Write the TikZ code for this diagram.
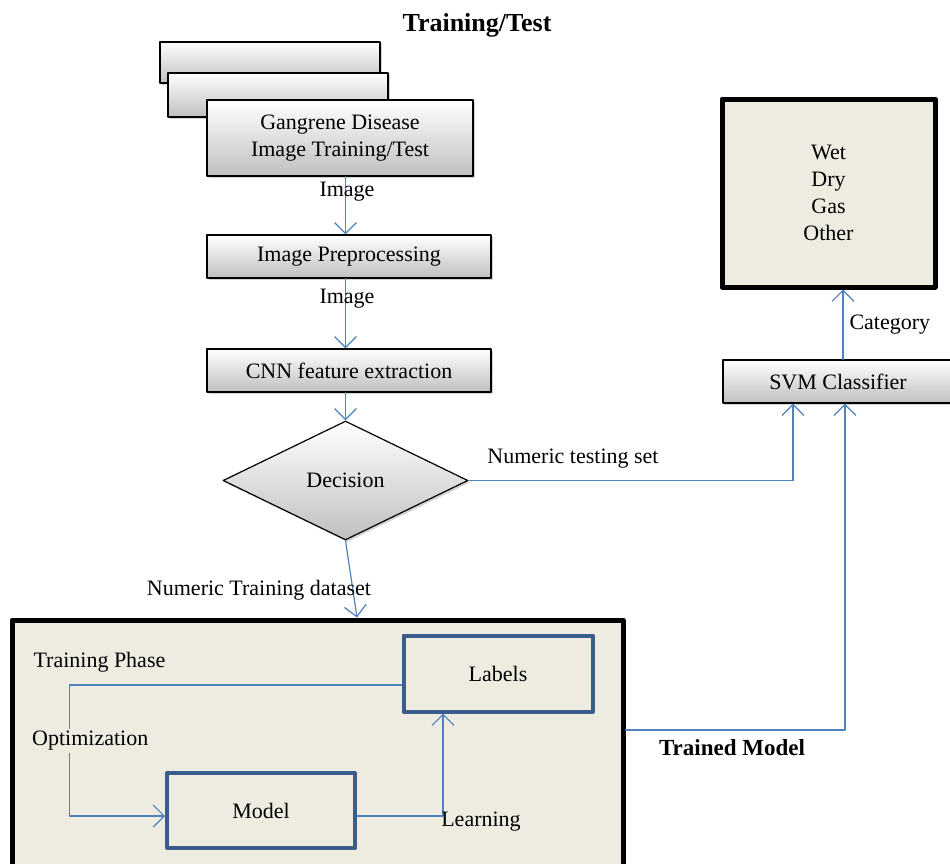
\documentclass[tikz,border=0pt]{standalone}
\usepackage{fontspec}
\setmainfont{Liberation Serif}
\usetikzlibrary{arrows.meta, shapes.geometric, shadows}
\definecolor{Fl}{RGB}{79, 129, 189}
\definecolor{Bg}{RGB}{238, 236, 225}
\definecolor{Bd}{RGB}{59, 93, 140}

\begin{document}
\begin{tikzpicture}[line cap=round, line join=round, x=1pt, y=-1pt,
  font=\fontsize{22}{27}\selectfont,
  procbox/.style={draw=black, line width=1.2pt, top color=white, bottom color=black!25,
    drop shadow={opacity=0.35, shadow xshift=2pt, shadow yshift=-2pt}, align=center, inner sep=0pt},
  flow/.style={draw=Fl, line width=1.2pt, -{Straight Barb[length=11pt, width=22pt, line width=1.2pt]}},
  panel/.style={draw=black, line width=5pt, fill=Bg, align=center},
  innerbox/.style={draw=Bd, line width=4pt, fill=Bg, inner sep=0pt}]
  \useasboundingbox (0,0) rectangle (950,863);

  \node[font=\bfseries\fontsize{26}{30}\selectfont] (title) at (477,25) {Training/Test};

  % Stacked input sheets
  \foreach \cx/\cy/\h [count=\i] in {270/62.5/41, 278/95/44}
    \node[procbox, minimum width=220pt, minimum height=\h pt] (stack\i) at (\cx,\cy) {};
  \node[procbox, minimum width=266pt, minimum height=76pt] (source) at (340,138) {Gangrene Disease\\Image Training/Test};

  \node[procbox, minimum width=284pt, minimum height=43pt] (prep) at (349,256.5) {Image Preprocessing};
  \node[procbox, minimum width=284pt, minimum height=43pt] (cnn) at (349,370.5) {CNN feature extraction};
  \node[procbox, diamond, aspect=2.06, minimum width=245pt, minimum height=119pt] (dec) at (345.5,480.5) {Decision};

  \node[procbox, minimum width=230pt, minimum height=43pt] (svm) at (838,381.5) {SVM Classifier};
  \node[panel, minimum width=213pt, minimum height=188pt] (out) at (828.5,193) {Wet\\Dry\\Gas\\Other};

  % Training phase panel
  \node[panel, minimum width=611pt, minimum height=260pt] (train) at (317.5,750) {};
  \node[innerbox, minimum width=189pt, minimum height=76pt] (labels) at (498,673.5) {Labels};
  \node[innerbox, minimum width=188pt, minimum height=75pt] (model) at (261,810.5) {Model};

  % Connectors
  \draw[flow] (source.south -| dec.north) -- (prep.north -| dec.north);
  \draw[flow] (prep.south -| dec.north) -- (cnn.north -| dec.north);
  \draw[flow] (cnn.south -| dec.north) -- (dec.north);
  \draw[flow] (dec.south) -- ([xshift=39.5pt]train.north);
  \draw[flow] (dec.east) -| ([xshift=-45pt]svm.south);
  \draw[flow] ([yshift=20pt]train.east) -| ([xshift=7pt]svm.south);
  \draw[flow] ([xshift=5pt]svm.north) -- ([xshift=5pt]svm.north |- out.south);
  \draw[flow] ([yshift=-11.5pt]labels.west) -- ++(-332,0) |- ([yshift=-5.5pt]model.west);
  \draw[flow] ([yshift=-5.5pt]model.east) -| ([xshift=-55pt]labels.south);

  % Labels on the flow
  \foreach \y [count=\i] in {192,299}
    \node (img\i) at (347,\y) {Image};
  \node (testlbl) at (573,459) {Numeric testing set};
  \node (trainlbl) at (259,590) {Numeric Training dataset};
  \node[anchor=west] (catlbl) at (846,325) {Category};
  \node[anchor=west] (phase) at (30,662) {Training Phase};
  \node[anchor=west, fill=Bg, inner sep=2pt] (opt) at (30,741) {Optimization};
  \node (learn) at (481,822) {Learning};
  \node[font=\bfseries\fontsize{23}{27}\selectfont] (trained) at (732,748) {Trained Model};

\end{tikzpicture}
\end{document}
